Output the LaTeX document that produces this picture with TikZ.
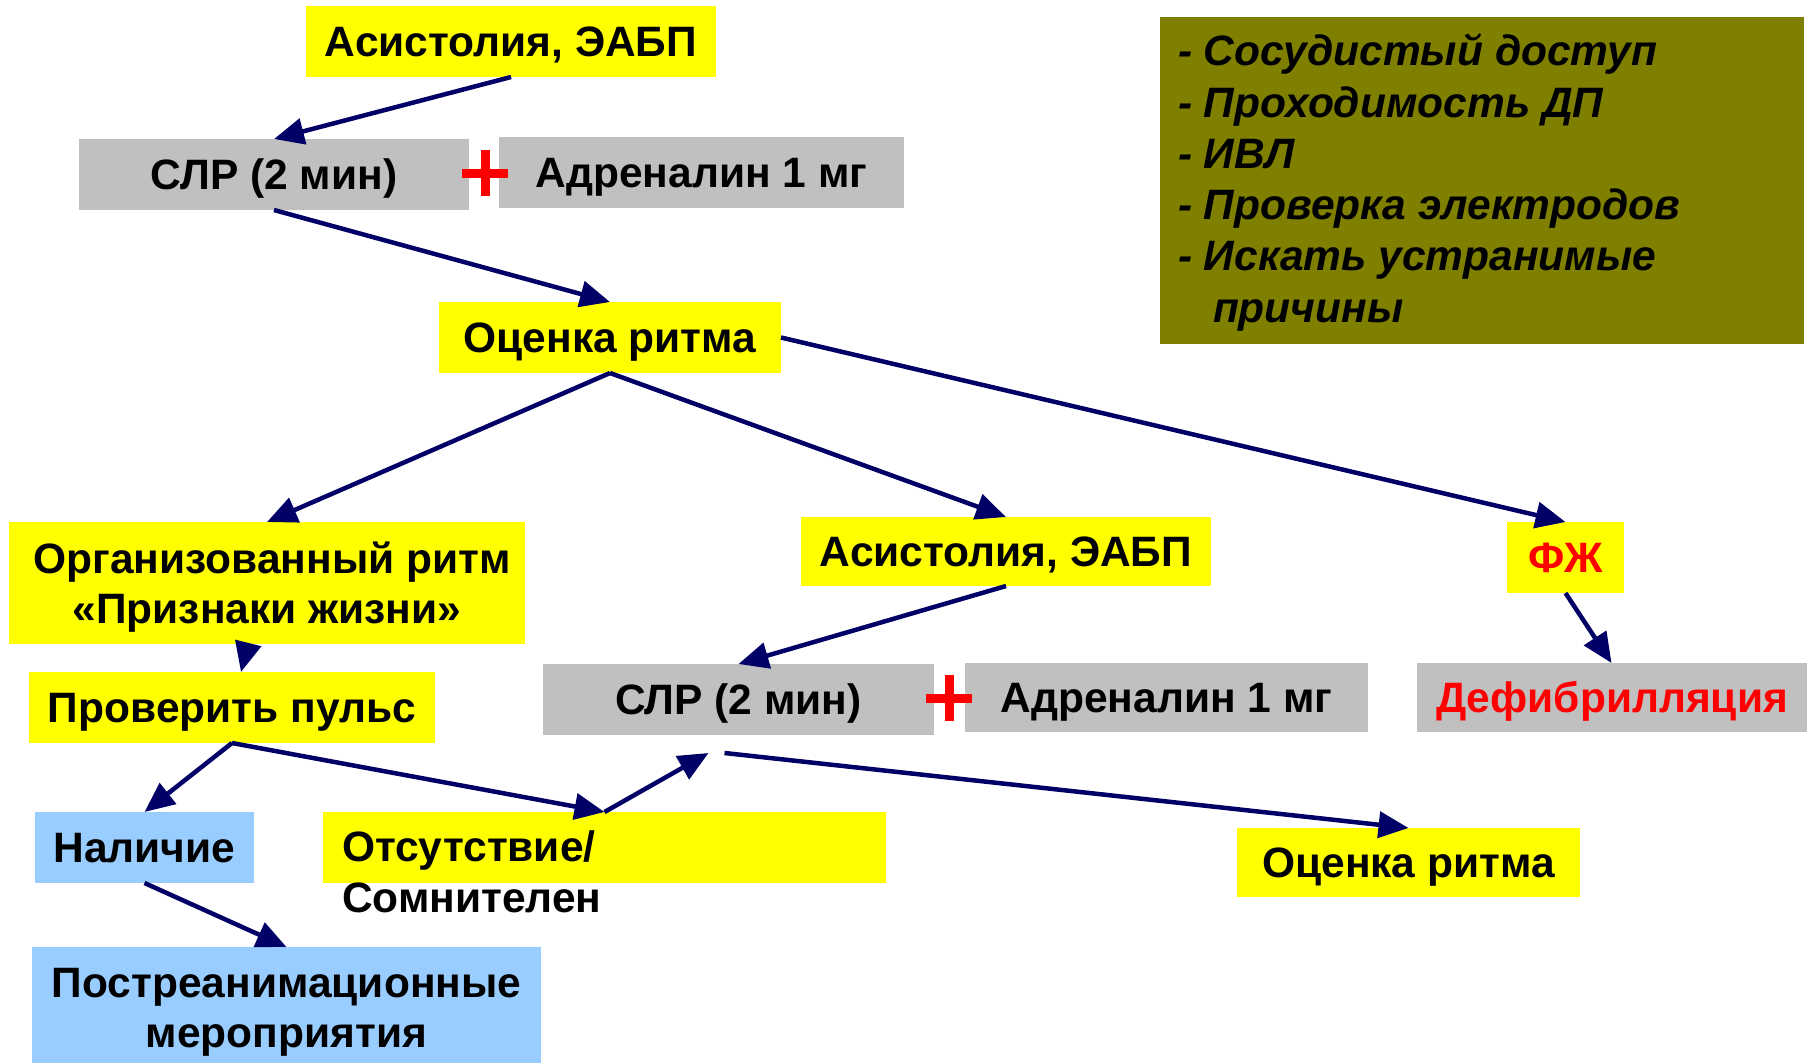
\documentclass[tikz,border=0pt]{standalone}
\usepackage{fontspec}
\setmainfont{Liberation Sans}
\usetikzlibrary{arrows.meta,calc}
\definecolor{yel}{HTML}{FFFF00}
\definecolor{gry}{HTML}{C0C0C0}
\definecolor{lblue}{HTML}{99CCFF}
\definecolor{olv}{HTML}{808000}
\definecolor{navy}{HTML}{000066}
\newcommand{\boxstrut}{\rule[-9pt]{0pt}{48pt}}
\begin{document}
\begin{tikzpicture}[x=1pt,y=-1pt,
  bx/.style={inner sep=0pt, outer sep=0pt, font=\fontsize{42.5}{51}\selectfont\bfseries, align=center},
  sbx/.style={bx, execute at begin node={\boxstrut}},
  ybox/.style={sbx, fill=yel},
  gbox/.style={sbx, fill=gry},
  bbox/.style={sbx, fill=lblue},
  plain/.style={inner sep=0pt, outer sep=0pt},
  ln/.style={bx, anchor=base},
  itl/.style={inner sep=0pt, outer sep=0pt, anchor=base west, font=\fontsize{42.5}{51}\selectfont\bfseries\itshape},
  arr/.style={draw=navy, line width=4.5pt, -{Triangle[length=30pt,width=26pt]}},
  plusbar/.style={draw=red, line width=9pt}]
\useasboundingbox (0,0) rectangle (1820,1063);

% top block
\node[ybox, minimum width=410pt, minimum height=71pt] (a1) at (511,41.5) {Асистолия, ЭАБП};
\node[gbox, minimum width=390pt, minimum height=71pt] (s1) at (274,174.5) {СЛР (2 мин)};
\node[gbox, minimum width=405pt, minimum height=71pt] (ad1) at (701.5,172.5) {Адреналин 1 мг};
\coordinate (p1) at (485,173);
\draw[plusbar] ($(p1)+(-23,0)$) -- ($(p1)+(23,0)$);
\draw[plusbar] ($(p1)+(0,-23)$) -- ($(p1)+(0,23)$);
\node[ybox, minimum width=342pt, minimum height=71pt] (o1) at (610,337.5) {Оценка ритма};

% olive box
\node[plain, fill=olv, minimum width=644pt, minimum height=327pt, anchor=north west] (olive) at (1160,17) {};
\node[itl] (l1) at (1178,65) {- Сосудистый доступ};
\node[itl] (l2) at (1178,117) {- Проходимость ДП};
\node[itl] (l3) at (1178,168) {- ИВЛ};
\node[itl] (l4) at (1178,219) {- Проверка электродов};
\node[itl] (l5) at (1178,270) {- Искать устранимые};
\node[itl] (l6) at (1213,322) {причины};

% middle row
\node[plain, fill=yel, minimum width=516pt, minimum height=122pt] (org) at (267,583) {};
\node[ln] (org1) at (272,573) {Организованный ритм};
\node[ln] (org2) at (267,623) {«Признаки жизни»};
\node[ybox, minimum width=410pt, minimum height=69pt] (a2) at (1006,551.5) {Асистолия, ЭАБП};
\node[ybox, minimum width=117pt, minimum height=71pt, text=red] (fz) at (1565.5,557.5) {ФЖ};
\node[ybox, minimum width=406pt, minimum height=71pt] (pulse) at (232,707.5) {Проверить пульс};
\node[gbox, minimum width=391pt, minimum height=71pt] (s2) at (738.5,699.5) {СЛР (2 мин)};
\node[gbox, minimum width=403pt, minimum height=69pt] (ad2) at (1166.5,697.5) {Адреналин 1 мг};
\coordinate (p2) at (949,698);
\draw[plusbar] ($(p2)+(-23,0)$) -- ($(p2)+(23,0)$);
\draw[plusbar] ($(p2)+(0,-23)$) -- ($(p2)+(0,23)$);
\node[gbox, minimum width=390pt, minimum height=69pt, text=red] (def) at (1612,697.5) {Дефибрилляция};

% bottom
\node[bbox, minimum width=219pt, minimum height=71pt] (nal) at (144.5,847.5) {Наличие};
\node[plain, fill=yel, minimum width=563pt, minimum height=71pt] (ots) at (604.5,847.5) {};
\node[bx, anchor=base west] (ots1) at (342,861) {Отсутствие/};
\node[bx, anchor=base west] (ots2) at (342,912) {Сомнителен};
\node[ybox, minimum width=343pt, minimum height=69pt] (o2) at (1408.5,862.5) {Оценка ритма};
\node[plain, fill=lblue, minimum width=509pt, minimum height=116pt] (post) at (286.5,1005) {};
\node[ln] (post1) at (286.5,997) {Постреанимационные};
\node[ln] (post2) at (286.5,1047) {мероприятия};

\coordinate (c1) at ([shift={(-30,18)}]s2.south);
\coordinate (c2) at ([shift={(-14,18)}]s2.south);

% connectors
\draw[arr] (a1.south) -- (s1.north);
\draw[arr] (s1.south) -- (o1.north);
\draw[arr] (o1.south) -- (org.north);
\draw[arr] (o1.south) -- (a2.north);
\draw[arr] (o1.east) -- (fz.north);
\draw[arr] (fz.south) -- ([xshift=46pt]fz.south |- def.north);
\draw[arr] ([xshift=-19pt]org.south) -- ([xshift=9pt]pulse.north);
\draw[arr] (a2.south) -- (s2.north);
\draw[arr] (pulse.south) -- (nal.north);
\draw[arr] (pulse.south) -- (ots.north);
\draw[arr] (ots.north) -- (c1);
\draw[arr] (c2) -- (o2.north);
\draw[arr] (nal.south) -- (post.north);
\end{tikzpicture}
\end{document}
